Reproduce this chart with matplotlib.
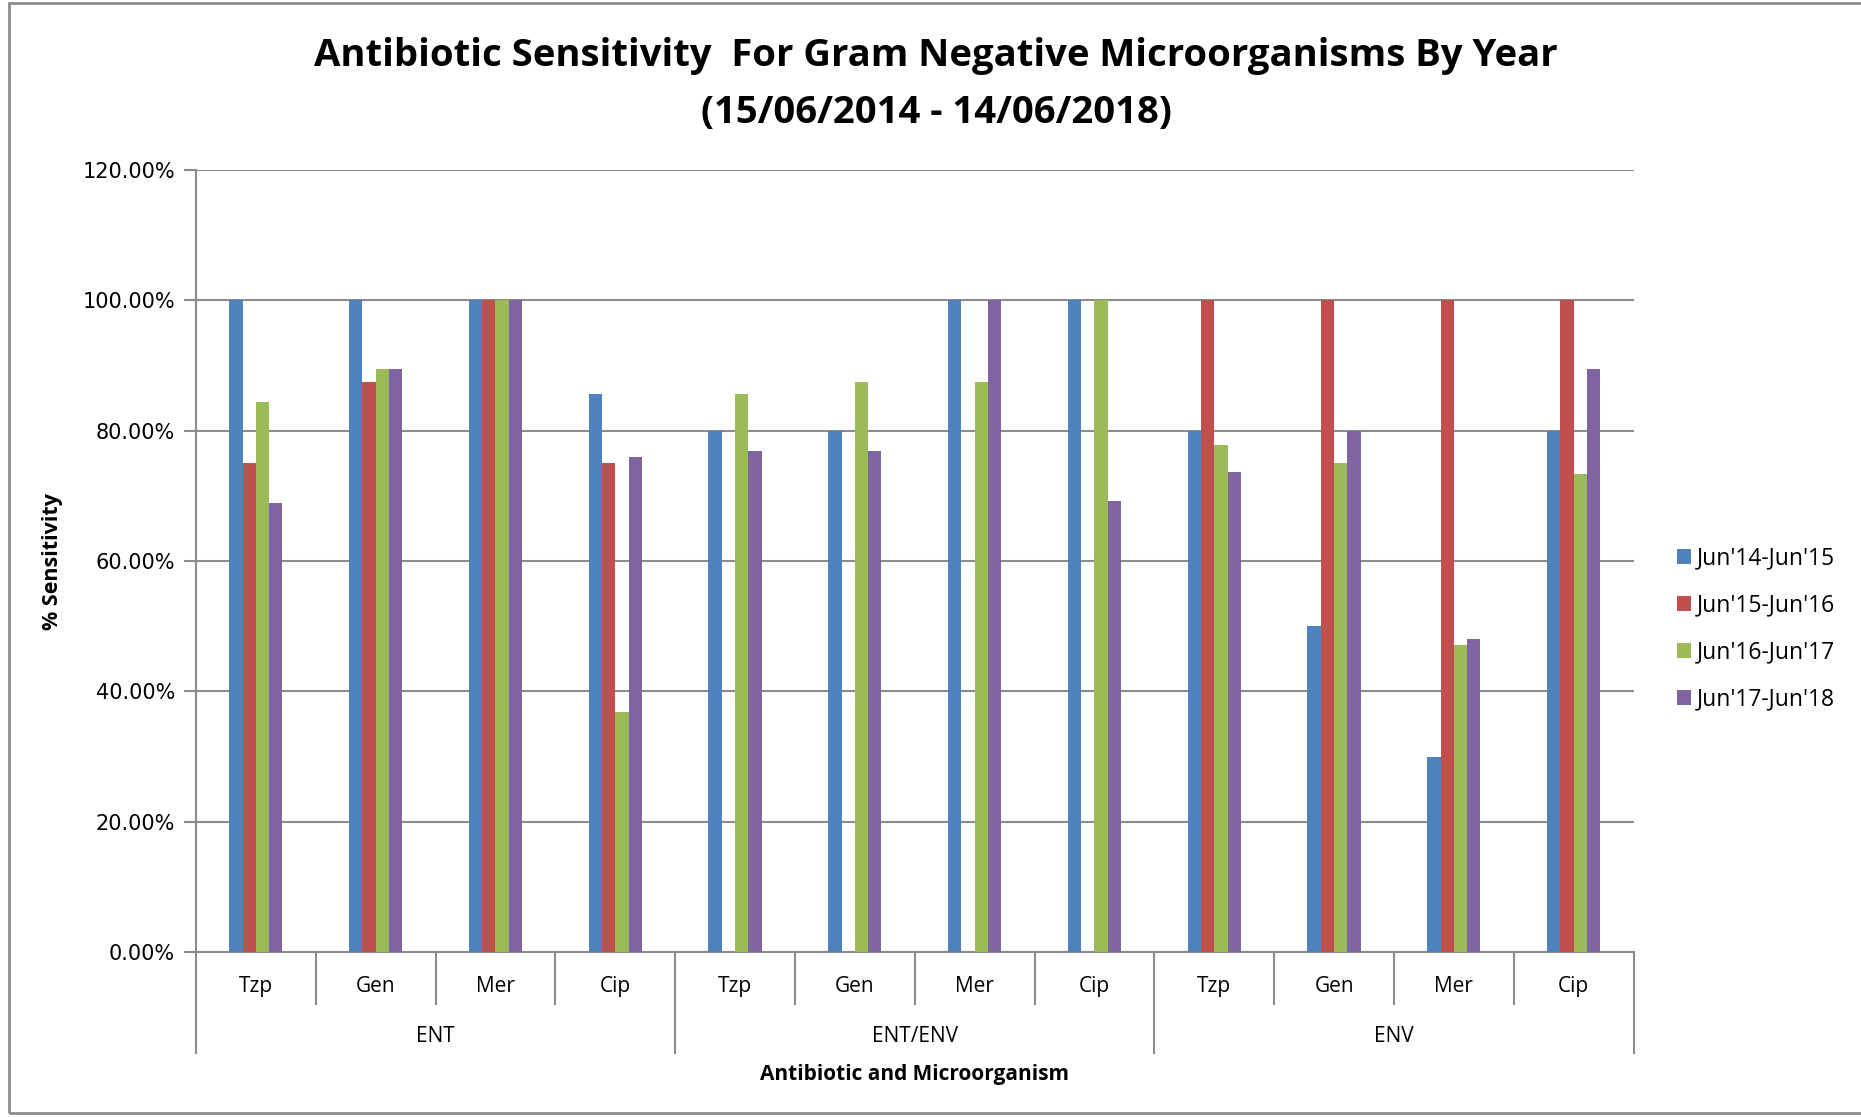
import matplotlib
matplotlib.use("Agg")
import matplotlib.pyplot as plt
from matplotlib.patches import Rectangle
from matplotlib.ticker import FuncFormatter
import numpy as np

antibiotics = ["Tzp", "Gen", "Mer", "Cip"] * 3
organisms = ["ENT", "ENT/ENV", "ENV"]
series_names = ["Jun'14-Jun'15", "Jun'15-Jun'16", "Jun'16-Jun'17", "Jun'17-Jun'18"]

jun14_15 = [100, 100, 100, 85.7, 80, 80, 100, 100, 80, 50, 30, 80]
jun15_16 = [75, 87.5, 100, 75, np.nan, np.nan, np.nan, np.nan, 100, 100, 100, 100]
jun16_17 = [84.4, 89.5, 100, 36.8, 85.7, 87.5, 87.5, 100, 77.8, 75, 47.1, 73.3]
jun17_18 = [68.9, 89.5, 100, 75.9, 76.9, 76.9, 100, 69.2, 73.7, 80, 48.1, 89.5]

colors = ["#4F81BD", "#C0504D", "#9BBB59", "#8064A2"]

fig = plt.figure(figsize=(18.61, 11.17), dpi=100)
ax = fig.add_axes([0.1053, 0.1477, 0.7725, 0.7001])

x = np.arange(len(antibiotics))
w = 0.111
all_series = [jun14_15, jun15_16, jun16_17, jun17_18]
for i, (vals, c, name) in enumerate(zip(all_series, colors, series_names)):
    ax.bar(x + (i - 1.5) * w, vals, width=w, color=c, label=name, zorder=3)

ax.set_xlim(-0.5, len(antibiotics) - 0.5)
ax.set_ylim(0, 120)
ax.set_yticks(np.arange(0, 121, 20))
ax.yaxis.set_major_formatter(FuncFormatter(lambda v, p: f"{v:.2f}%"))
ax.grid(axis="y", color="#8c8c8c", linewidth=1.5, zorder=0)
for s in ["top", "right"]:
    ax.spines[s].set_visible(False)
for s in ["left", "bottom"]:
    ax.spines[s].set_color("#8c8c8c")
    ax.spines[s].set_linewidth(1.5)
ax.tick_params(axis="y", length=9, width=1.5, color="#8c8c8c", labelsize=15, pad=6)
ax.tick_params(axis="x", length=0)
ax.set_xticks([])

# multi-level category axis
trans = ax.get_xaxis_transform()
tick_font = "Open Sans"
for i, lab in enumerate(antibiotics):
    ax.text(i, -0.044, lab, transform=trans, ha="center", va="center",
            fontsize=15, family=tick_font)
for b in range(1, len(antibiotics)):
    if b % 4 != 0:
        ax.plot([b - 0.5, b - 0.5], [0, -0.067], transform=trans, color="#8c8c8c",
                lw=1.5, clip_on=False)
for b in range(0, len(antibiotics) + 1, 4):
    ax.plot([b - 0.5, b - 0.5], [0, -0.129], transform=trans, color="#8c8c8c",
            lw=1.5, clip_on=False)
for g, name in enumerate(organisms):
    ax.text(g * 4 + 1.5, -0.108, name, transform=trans, ha="center", va="center",
            fontsize=15, family=tick_font)
ax.text(5.5, -0.156, "Antibiotic and Microorganism", transform=trans, ha="center",
        va="center", fontsize=15, fontweight="bold", family=tick_font)

ax.set_ylabel("% Sensitivity", fontsize=15.5, fontweight="bold", family=tick_font, labelpad=14)

fig.text(0.503, 0.9245, "Antibiotic Sensitivity  For Gram Negative Microorganisms By Year\n(15/06/2014 - 14/06/2018)",
         ha="center", va="center", fontsize=27.5, fontweight="bold", family=tick_font,
         linespacing=1.65)

leg = ax.legend(loc="center left", bbox_to_anchor=(1.016, 0.413), frameon=False,
                prop={"family": tick_font, "size": 16.5}, handlelength=0.6, handleheight=0.6,
                handletextpad=0.25, labelspacing=1.0)

fig.patches.append(Rectangle((0.005, 0.004), 1.2, 0.993, transform=fig.transFigure,
                             fill=False, edgecolor="#8c8c8c", lw=2))

fig.savefig("out.png", dpi=100)
